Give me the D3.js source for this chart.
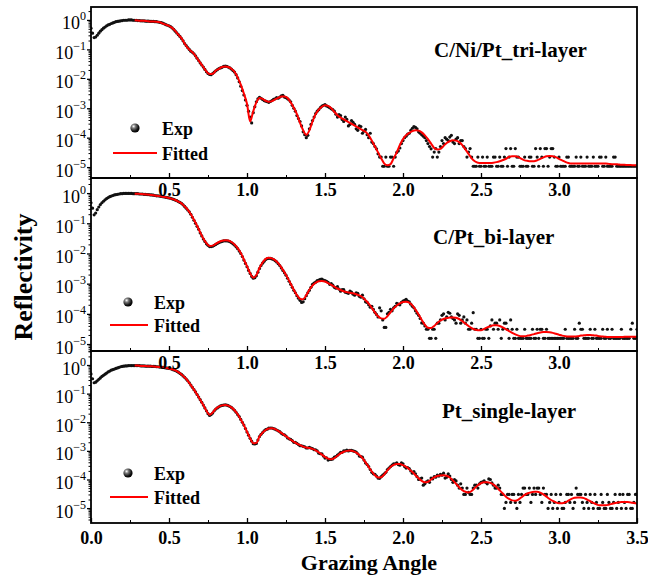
<!DOCTYPE html>
<html><head><meta charset="utf-8">
<script src="https://cdn.jsdelivr.net/npm/d3@7"></script>
<style>body{margin:0;background:#fff}svg{display:block}</style>
</head><body><svg id="c" width="648" height="578"></svg>
<script>
// ---------------- DATA (log10 of reflectivity) ----------------
const angleStep = 0.02;          // step of each measured/fitted array (deg)
const evenStartAngle = 0.0;      // first angle of the *Even arrays
const oddStartAngle = 0.01;      // first angle of the *Odd arrays
const fitStartAngle = 0.28;      // first fitted angle
const xTickValues = [0, 0.5, 1.0, 1.5, 2.0, 2.5, 3.0, 3.5];
const xTickLabels = ["0.0", "0.5", "1.0", "1.5", "2.0", "2.5", "3.0", "3.5"];
const yTickExponents = [0, -1, -2, -3, -4, -5];
const panelTitles = ["C/Ni/Pt_tri-layer", "C/Pt_bi-layer", "Pt_single-layer"];
const legendLabels = ["Exp", "Fitted"];
const xAxisTitle = "Grazing Angle";
const yAxisTitle = "Reflectivity";

const expTriEven = [
-0.28,-0.6,-0.52,-0.38,-0.28,-0.2,-0.15,-0.1,-0.06,-0.04,
-0.02,-0.01,0,0,-0.01,-0.02,-0.03,-0.03,-0.04,-0.05,
-0.05,-0.06,-0.08,-0.11,-0.16,-0.2,-0.27,-0.38,-0.5,-0.63,
-0.8,-0.94,-1.06,-1.15,-1.3,-1.46,-1.6,-1.76,-1.85,-1.82,
-1.73,-1.65,-1.61,-1.57,-1.6,-1.67,-1.77,-1.97,-2.25,-2.55,
-2.9,-3.3,-3.15,-2.78,-2.63,-2.7,-2.76,-2.8,-2.74,-2.68,
-2.66,-2.58,-2.62,-2.68,-2.78,-3.0,-3.25,-3.45,-3.8,-4.0,
-3.7,-3.42,-3.18,-3.05,-2.93,-2.88,-2.95,-3.02,-3.1,-3.3,
-3.25,-3.45,-3.38,-3.55,-3.48,-3.7,-3.6,-3.85,-3.72,-4.0,
-4.15,-4.3,-4.55,-4.66,-4.97,-4.97,-4.66,-4.97,-4.5,-4.35,
-4.1,-3.95,-3.85,-3.68,-3.65,-3.8,-3.9,-4.0,-4.2,-4.38,
-4.49,-4.66,-4.3,-4.2,-4.05,-3.98,-4.15,-4.05,-4.2,-4.1,
-4.37,-4.49,-4.66,-4.97,-4.66,-4.97,-4.97,-4.66,-4.97,-4.66,
-4.97,-4.66,-4.97,-4.37,-4.66,-4.97,-4.37,-4.66,-4.97,-4.66,
-4.97,-4.66,-4.97,-4.66,-4.37,-4.97,-4.37,-4.66,-4.37,-4.97,
-4.66,-4.97,-4.97,-4.66,-4.97,-4.97,-4.97,-4.66,-4.97,-4.66,
-4.97,-4.66,-4.97,-4.66,-4.97,-4.66,-4.97,-4.97,-4.66,-4.97,
-4.97,-4.97,-4.97,-4.97,-4.97,-4.97];

const expTriOdd = [
-0.45,-0.58,-0.45,-0.33,-0.24,-0.17,-0.12,-0.08,-0.05,-0.03,
-0.01,-0.01,0,-0.01,-0.01,-0.02,-0.03,-0.04,-0.04,-0.05,
-0.06,-0.07,-0.09,-0.13,-0.18,-0.23,-0.32,-0.44,-0.56,-0.71,
-0.87,-1.0,-1.1,-1.22,-1.38,-1.53,-1.68,-1.82,-1.86,-1.77,
-1.69,-1.63,-1.58,-1.58,-1.63,-1.72,-1.86,-2.1,-2.4,-2.72,
-3.1,-3.5,-2.95,-2.68,-2.66,-2.74,-2.78,-2.77,-2.7,-2.64,
-2.62,-2.56,-2.64,-2.72,-2.9,-3.1,-3.35,-3.6,-3.9,-3.92,
-3.55,-3.3,-3.1,-2.98,-2.9,-2.92,-2.98,-3.05,-3.2,-3.22,
-3.38,-3.3,-3.6,-3.42,-3.55,-3.75,-3.62,-3.78,-3.9,-3.85,
-4.2,-4.38,-4.66,-4.97,-4.66,-4.97,-4.66,-4.66,-4.45,-4.2,
-4.0,-3.88,-3.75,-3.62,-3.7,-3.85,-3.95,-4.1,-4.3,-4.66,
-4.37,-4.49,-4.1,-4.0,-4.1,-3.92,-4.2,-4.0,-4.1,-4.3,
-4.66,-4.37,-4.97,-4.97,-4.97,-4.66,-4.97,-4.97,-4.97,-4.66,
-4.97,-4.97,-4.66,-4.97,-4.37,-4.97,-4.66,-4.97,-4.97,-4.97,
-4.66,-4.97,-4.37,-4.97,-4.66,-4.37,-4.97,-4.37,-4.66,-4.97,
-4.97,-4.97,-4.66,-4.97,-4.97,-4.66,-4.97,-4.97,-4.97,-4.97,
-4.97,-4.97,-4.97,-4.66,-4.97,-4.97,-4.97,-4.66,-4.97,-4.97,
-4.97,-4.97,-4.97,-4.97,-4.97];

const fitTri = [
-0.01,-0.02,-0.03,-0.03,-0.04,-0.05,-0.05,-0.06,-0.08,-0.12,
-0.16,-0.2,-0.27,-0.37,-0.5,-0.62,-0.8,-0.95,-1.05,-1.15,
-1.3,-1.45,-1.6,-1.75,-1.84,-1.83,-1.72,-1.66,-1.6,-1.58,
-1.6,-1.66,-1.76,-1.95,-2.2,-2.5,-2.85,-3.45,-3.1,-2.8,
-2.65,-2.68,-2.75,-2.78,-2.76,-2.7,-2.65,-2.6,-2.6,-2.65,
-2.8,-2.98,-3.2,-3.5,-3.75,-3.9,-3.75,-3.45,-3.2,-3.05,
-2.95,-2.9,-2.92,-3.0,-3.12,-3.24,-3.32,-3.38,-3.44,-3.5,
-3.56,-3.62,-3.68,-3.74,-3.8,-3.92,-4.1,-4.3,-4.5,-4.7,
-4.88,-4.94,-4.9,-4.7,-4.5,-4.25,-4.05,-3.92,-3.84,-3.78,
-3.75,-3.76,-3.82,-3.92,-4.05,-4.2,-4.35,-4.4,-4.38,-4.28,
-4.18,-4.12,-4.09,-4.1,-4.15,-4.25,-4.4,-4.55,-4.7,-4.8,
-4.85,-4.86,-4.86,-4.86,-4.86,-4.85,-4.83,-4.8,-4.76,-4.72,
-4.65,-4.63,-4.63,-4.66,-4.72,-4.77,-4.79,-4.8,-4.8,-4.77,
-4.72,-4.67,-4.63,-4.62,-4.63,-4.66,-4.72,-4.77,-4.82,-4.86,
-4.88,-4.88,-4.88,-4.88,-4.88,-4.88,-4.88,-4.88,-4.88,-4.88,
-4.88,-4.88,-4.89,-4.9,-4.9,-4.91,-4.92,-4.92,-4.93,-4.93,
-4.94,-4.94];

const expBiEven = [
-0.32,-0.72,-0.55,-0.38,-0.27,-0.18,-0.12,-0.08,-0.05,-0.03,
-0.02,-0.01,-0.01,-0.01,-0.02,-0.02,-0.03,-0.04,-0.05,-0.06,
-0.07,-0.09,-0.1,-0.12,-0.14,-0.16,-0.19,-0.23,-0.28,-0.34,
-0.44,-0.56,-0.7,-0.9,-1.1,-1.32,-1.52,-1.68,-1.77,-1.76,
-1.7,-1.64,-1.6,-1.58,-1.59,-1.64,-1.72,-1.84,-2.0,-2.22,
-2.44,-2.66,-2.82,-2.74,-2.5,-2.32,-2.2,-2.16,-2.18,-2.24,
-2.34,-2.48,-2.64,-2.82,-3.02,-3.22,-3.4,-3.55,-3.6,-3.4,
-3.22,-3.02,-2.95,-2.88,-2.85,-2.9,-2.96,-3.0,-3.12,-3.1,
-3.25,-3.2,-3.3,-3.25,-3.35,-3.3,-3.42,-3.38,-3.6,-3.7,
-3.75,-3.95,-4.1,-3.9,-4.45,-4.0,-3.85,-3.8,-3.65,-3.7,
-3.58,-3.52,-3.6,-3.75,-3.9,-4.05,-4.3,-4.4,-4.51,-4.81,
-4.51,-4.31,-4.2,-4.0,-4.1,-3.98,-4.15,-4.31,-4.05,-4.2,
-4.31,-4.51,-4.31,-4.51,-4.81,-4.51,-4.81,-4.51,-4.4,-4.51,
-4.31,-4.2,-4.51,-4.31,-4.81,-4.51,-4.81,-4.81,-4.81,-4.51,
-4.81,-4.81,-4.81,-4.51,-4.51,-4.81,-4.51,-4.81,-4.81,-4.81,
-4.81,-4.81,-4.51,-4.81,-4.81,-4.51,-4.81,-4.51,-4.81,-4.81,
-4.51,-4.81,-4.81,-4.81,-4.51,-4.81,-4.81,-4.51,-4.81,-4.81,
-4.51,-4.81,-4.81,-4.51,-4.81,-4.51];

const expBiOdd = [
-0.5,-0.66,-0.46,-0.32,-0.22,-0.15,-0.1,-0.06,-0.04,-0.02,
-0.01,-0.01,-0.01,-0.02,-0.02,-0.03,-0.03,-0.04,-0.05,-0.06,
-0.08,-0.09,-0.11,-0.13,-0.15,-0.17,-0.21,-0.25,-0.31,-0.39,
-0.5,-0.62,-0.8,-1.0,-1.2,-1.42,-1.6,-1.73,-1.77,-1.73,
-1.67,-1.62,-1.58,-1.58,-1.61,-1.68,-1.78,-1.92,-2.1,-2.33,
-2.56,-2.76,-2.8,-2.62,-2.4,-2.26,-2.17,-2.16,-2.2,-2.28,
-2.4,-2.56,-2.72,-2.92,-3.12,-3.3,-3.48,-3.62,-3.5,-3.3,
-3.12,-2.98,-2.9,-2.86,-2.88,-2.92,-3.02,-3.05,-3.15,-3.18,
-3.2,-3.28,-3.32,-3.28,-3.38,-3.32,-3.45,-3.5,-3.62,-3.78,
-3.85,-4.02,-3.8,-4.2,-4.45,-3.95,-3.9,-3.75,-3.68,-3.62,
-3.55,-3.58,-3.68,-3.8,-3.98,-4.15,-4.31,-4.51,-4.81,-4.51,
-4.81,-4.31,-4.05,-4.2,-3.95,-4.1,-4.2,-4.0,-4.31,-4.1,
-4.2,-4.51,-3.96,-4.51,-4.81,-4.81,-4.51,-4.81,-4.2,-4.31,
-4.51,-4.81,-4.31,-4.51,-4.2,-4.81,-4.51,-4.81,-4.81,-4.81,
-4.81,-4.51,-4.81,-4.81,-4.51,-4.81,-4.81,-4.81,-4.81,-4.81,
-4.81,-4.81,-4.81,-4.81,-4.81,-4.81,-4.31,-4.51,-4.81,-4.81,
-4.81,-4.51,-4.81,-4.81,-4.81,-4.51,-4.81,-4.81,-4.81,-4.81,
-4.81,-4.81,-4.81,-4.31,-4.81];

const fitBi = [
-0.02,-0.02,-0.03,-0.04,-0.05,-0.06,-0.07,-0.09,-0.1,-0.12,
-0.14,-0.16,-0.19,-0.23,-0.28,-0.34,-0.44,-0.55,-0.7,-0.88,
-1.08,-1.3,-1.5,-1.66,-1.75,-1.74,-1.68,-1.62,-1.58,-1.56,
-1.57,-1.62,-1.7,-1.82,-1.98,-2.2,-2.42,-2.65,-2.8,-2.72,
-2.48,-2.3,-2.18,-2.14,-2.16,-2.22,-2.32,-2.46,-2.62,-2.8,
-3.0,-3.2,-3.38,-3.5,-3.52,-3.38,-3.2,-3.06,-2.97,-2.92,
-2.91,-2.93,-2.98,-3.04,-3.1,-3.16,-3.21,-3.25,-3.28,-3.3,
-3.32,-3.35,-3.39,-3.45,-3.55,-3.66,-3.8,-3.95,-4.08,-4.15,
-4.16,-4.08,-3.95,-3.82,-3.72,-3.65,-3.61,-3.6,-3.63,-3.72,
-3.86,-4.02,-4.2,-4.36,-4.46,-4.47,-4.4,-4.3,-4.22,-4.17,
-4.14,-4.12,-4.12,-4.13,-4.17,-4.24,-4.32,-4.4,-4.47,-4.52,
-4.54,-4.54,-4.5,-4.45,-4.41,-4.38,-4.38,-4.4,-4.45,-4.51,
-4.57,-4.63,-4.68,-4.72,-4.74,-4.74,-4.72,-4.7,-4.67,-4.64,
-4.62,-4.6,-4.6,-4.61,-4.63,-4.66,-4.69,-4.72,-4.74,-4.75,
-4.75,-4.75,-4.74,-4.72,-4.71,-4.7,-4.7,-4.71,-4.72,-4.74,
-4.75,-4.76,-4.77,-4.77,-4.77,-4.77,-4.77,-4.76,-4.76,-4.76,
-4.76,-4.76];

const expSingleEven = [
-0.31,-0.62,-0.55,-0.45,-0.36,-0.28,-0.21,-0.16,-0.12,-0.08,
-0.05,-0.03,-0.02,-0.02,-0.02,-0.02,-0.03,-0.03,-0.04,-0.04,
-0.05,-0.06,-0.07,-0.08,-0.1,-0.12,-0.15,-0.19,-0.25,-0.33,
-0.43,-0.55,-0.7,-0.86,-1.03,-1.21,-1.4,-1.6,-1.76,-1.68,
-1.54,-1.46,-1.41,-1.39,-1.42,-1.48,-1.58,-1.73,-1.9,-2.1,
-2.34,-2.56,-2.75,-2.74,-2.5,-2.36,-2.26,-2.2,-2.2,-2.24,
-2.3,-2.38,-2.44,-2.55,-2.6,-2.7,-2.74,-2.82,-2.84,-2.9,
-2.88,-2.92,-2.96,-3.08,-3.1,-3.25,-3.32,-3.3,-3.22,-3.15,
-3.05,-3.0,-2.97,-2.98,-3.0,-3.04,-3.18,-3.22,-3.42,-3.55,
-3.75,-3.82,-3.95,-3.9,-3.8,-3.65,-3.55,-3.45,-3.42,-3.5,
-3.45,-3.6,-3.62,-3.78,-3.8,-4.0,-3.95,-4.15,-4.05,-3.95,
-3.9,-3.85,-3.82,-3.78,-3.92,-3.88,-4.1,-4.05,-4.3,-4.3,
-4.52,-4.45,-4.52,-4.2,-4.3,-4.1,-4.05,-4.15,-4.0,-4.2,
-4.3,-4.3,-4.52,-4.8,-4.52,-4.52,-4.8,-4.52,-4.52,-4.3,
-4.52,-4.8,-4.3,-4.3,-4.52,-4.3,-4.52,-4.8,-5.01,-4.52,
-4.8,-5.01,-4.8,-4.52,-4.52,-4.8,-4.52,-4.52,-5.01,-4.8,
-4.52,-5.01,-4.8,-5.01,-4.8,-5.01,-4.8,-5.01,-4.52,-4.8,
-5.01,-4.8,-4.52,-5.01,-4.8,-4.52];

const expSingleOdd = [
-0.48,-0.6,-0.5,-0.4,-0.32,-0.24,-0.18,-0.14,-0.1,-0.06,
-0.04,-0.03,-0.02,-0.02,-0.02,-0.02,-0.03,-0.04,-0.04,-0.05,
-0.05,-0.06,-0.07,-0.09,-0.11,-0.13,-0.17,-0.22,-0.29,-0.38,
-0.49,-0.62,-0.78,-0.94,-1.12,-1.3,-1.5,-1.7,-1.73,-1.6,
-1.5,-1.43,-1.4,-1.4,-1.45,-1.53,-1.65,-1.8,-2.0,-2.22,
-2.45,-2.66,-2.76,-2.62,-2.42,-2.3,-2.24,-2.2,-2.22,-2.27,
-2.33,-2.42,-2.48,-2.58,-2.64,-2.7,-2.78,-2.82,-2.86,-2.9,
-2.9,-2.96,-3.0,-3.1,-3.18,-3.24,-3.3,-3.28,-3.2,-3.1,
-3.05,-3.0,-3.0,-2.98,-3.02,-3.1,-3.2,-3.32,-3.48,-3.65,
-3.8,-3.88,-3.96,-3.85,-3.75,-3.6,-3.5,-3.45,-3.48,-3.42,
-3.55,-3.58,-3.7,-3.72,-3.9,-3.98,-4.2,-4.08,-4.1,-3.98,
-3.92,-3.88,-3.85,-3.95,-3.8,-4.0,-4.0,-4.2,-4.15,-4.52,
-4.3,-4.52,-4.3,-4.2,-4.15,-4.08,-4.1,-3.98,-4.12,-4.3,
-4.2,-4.52,-5.01,-4.52,-4.8,-4.52,-5.01,-4.8,-4.3,-4.52,
-4.3,-4.52,-4.52,-4.3,-4.8,-4.52,-5.01,-4.52,-4.8,-5.01,
-4.52,-5.01,-4.52,-4.8,-5.01,-4.3,-4.52,-4.8,-4.52,-5.01,
-4.8,-4.52,-5.01,-4.52,-5.01,-4.52,-5.01,-4.8,-5.01,-4.52,
-4.52,-5.01,-4.52,-5.01,-4.52];

const fitSingle = [
-0.02,-0.02,-0.03,-0.03,-0.04,-0.04,-0.05,-0.06,-0.07,-0.08,
-0.1,-0.12,-0.15,-0.19,-0.25,-0.33,-0.43,-0.55,-0.7,-0.86,
-1.03,-1.21,-1.4,-1.6,-1.74,-1.66,-1.53,-1.45,-1.41,-1.4,
-1.42,-1.48,-1.58,-1.72,-1.9,-2.1,-2.33,-2.56,-2.73,-2.72,
-2.5,-2.36,-2.27,-2.22,-2.21,-2.24,-2.3,-2.37,-2.45,-2.53,
-2.61,-2.68,-2.75,-2.8,-2.85,-2.88,-2.9,-2.93,-2.98,-3.05,
-3.13,-3.21,-3.27,-3.29,-3.25,-3.17,-3.09,-3.03,-3.0,-2.99,
-3.01,-3.06,-3.14,-3.25,-3.4,-3.56,-3.72,-3.85,-3.93,-3.92,
-3.82,-3.68,-3.56,-3.49,-3.46,-3.46,-3.5,-3.56,-3.64,-3.74,
-3.85,-3.96,-4.05,-4.1,-4.08,-4.0,-3.93,-3.88,-3.86,-3.85,
-3.87,-3.93,-4.03,-4.15,-4.27,-4.37,-4.43,-4.45,-4.4,-4.3,
-4.2,-4.13,-4.1,-4.1,-4.12,-4.18,-4.27,-4.38,-4.49,-4.6,
-4.68,-4.73,-4.74,-4.7,-4.62,-4.54,-4.48,-4.45,-4.43,-4.43,
-4.46,-4.52,-4.6,-4.68,-4.75,-4.8,-4.83,-4.83,-4.8,-4.74,
-4.68,-4.64,-4.63,-4.63,-4.65,-4.7,-4.76,-4.82,-4.87,-4.9,
-4.9,-4.9,-4.88,-4.85,-4.82,-4.8,-4.79,-4.79,-4.79,-4.8,
-4.82,-4.84];

// ---------------- LAYOUT ----------------
const FONT = "'Liberation Serif','Times New Roman',Times,serif";
const svg = d3.select("#c");
const x = d3.scaleLinear().domain([0, 3.5]).range([91, 637]);

const panels = [
  {even: expTriEven, odd: expTriOdd, fit: fitTri, title: panelTitles[0], top: 7, bottom: 178, lo: -5.37, hi: 0.44,
   titleX: 434, titleY: 57, ball: [135, 128], line: [113, 157, 153], textX: 162, labelDy: 18, showEnds: false},
  {even: expBiEven, odd: expBiOdd, fit: fitBi, title: panelTitles[1], top: 178, bottom: 351, lo: -5.23, hi: 0.5,
   titleX: 433, titleY: 244, ball: [128, 302], line: [110, 148, 325], textX: 154, labelDy: 18, showEnds: false},
  {even: expSingleEven, odd: expSingleOdd, fit: fitSingle, title: panelTitles[2], top: 351, bottom: 523, lo: -5.52, hi: 0.49,
   titleX: 442, titleY: 418, ball: [128, 473], line: [110, 148, 497], textX: 154, labelDy: 21, showEnds: true}
];

const defs = svg.append("defs");
const grad = defs.append("radialGradient").attr("id", "ballGrad")
  .attr("cx", "35%").attr("cy", "32%").attr("r", "70%");
grad.append("stop").attr("offset", "0").attr("stop-color", "#ffffff");
grad.append("stop").attr("offset", "0.3").attr("stop-color", "#7a7a7a");
grad.append("stop").attr("offset", "0.75").attr("stop-color", "#111");
grad.append("stop").attr("offset", "1").attr("stop-color", "#000");

panels.forEach((p, i) => {
  p.y = d3.scaleLog().domain([Math.pow(10, p.lo), Math.pow(10, p.hi)]).range([p.bottom, p.top]);
  defs.append("clipPath").attr("id", "clip" + i).append("rect")
    .attr("x", x(0)).attr("y", p.top).attr("width", x(3.5) - x(0)).attr("height", p.bottom - p.top);
});

// data layer
panels.forEach((p, i) => {
  const g = svg.append("g").attr("clip-path", `url(#clip${i})`);
  const expPts = p.even.map((v, k) => ({a: evenStartAngle + k * angleStep, r: Math.pow(10, v)}))
    .concat(p.odd.map((v, k) => ({a: oddStartAngle + k * angleStep, r: Math.pow(10, v)})));
  const fitPts = p.fit.map((v, k) => ({a: fitStartAngle + k * angleStep, r: Math.pow(10, v)}));
  g.selectAll("circle.exp").data(expPts).join("circle").attr("class", "exp")
    .attr("cx", d => x(d.a)).attr("cy", d => p.y(d.r)).attr("r", 1.6).attr("fill", "#111");
  g.append("path").datum(fitPts)
    .attr("d", d3.line().x(d => x(d.a)).y(d => p.y(d.r)).curve(d3.curveMonotoneX))
    .attr("fill", "none").attr("stroke", "#ff0000").attr("stroke-width", 2);
});

// frames, axes, text
panels.forEach((p, i) => {
  const yMajor = yTickExponents.map(e => Math.pow(10, e));
  const ya = svg.append("g").attr("transform", `translate(${x(0)},0)`)
    .call(d3.axisLeft(p.y).tickValues(yMajor).tickSize(4).tickSizeOuter(0).tickPadding(3).tickFormat(() => ""));
  ya.select(".domain").remove();
  ya.selectAll(".tick line").attr("stroke-width", 1.3);
  ya.selectAll(".tick text").each(function(d) {
    const e = Math.round(Math.log10(d));
    const t = d3.select(this).attr("font-family", FONT).attr("font-size", 18).attr("fill", "#000")
      .attr("text-anchor", "end").attr("dy", "0.5em").attr("x", -5);
    t.append("tspan").text("10");
    t.append("tspan").attr("font-size", 12).attr("dy", -9).text(e === 0 ? "0" : "\u2212" + Math.abs(e));
  });
  const minor = [];
  for (let e = Math.floor(p.lo); e <= Math.ceil(p.hi); e++) {
    for (let k = 2; k <= 9; k++) {
      const v = k * Math.pow(10, e);
      if (Math.log10(v) > p.lo && Math.log10(v) < p.hi) minor.push(v);
    }
  }
  const ym = svg.append("g").attr("transform", `translate(${x(0)},0)`)
    .call(d3.axisLeft(p.y).tickValues(minor).tickSize(2.5).tickSizeOuter(0).tickFormat(() => ""));
  ym.select(".domain").remove();

  const xm = svg.append("g").attr("transform", `translate(0,${p.bottom})`)
    .call(d3.axisBottom(x).tickValues([0.25, 0.75, 1.25, 1.75, 2.25, 2.75, 3.25]).tickSize(-3).tickSizeOuter(0).tickFormat(() => ""));
  xm.select(".domain").remove();
  const xa = svg.append("g").attr("class", "xaxis").attr("transform", `translate(0,${p.bottom})`)
    .call(d3.axisBottom(x).tickValues(p.showEnds ? xTickValues : xTickValues.slice(1, 7))
      .tickSize(-5).tickSizeOuter(0).tickPadding(p.labelDy - 13)
      .tickFormat(d => xTickLabels[xTickValues.indexOf(d)]));
  xa.select(".domain").remove();
  xa.selectAll(".tick line").attr("stroke-width", 1.3);
  xa.selectAll(".tick text").attr("font-family", FONT).attr("font-size", 18)
    .attr("font-weight", "bold").attr("fill", "#000");

  svg.append("rect").attr("x", x(0)).attr("y", p.top).attr("width", x(3.5) - x(0))
    .attr("height", p.bottom - p.top).attr("fill", "none").attr("stroke", "#000").attr("stroke-width", 1.8);

  svg.append("text").attr("x", p.titleX).attr("y", p.titleY).attr("font-family", FONT)
    .attr("font-size", 21).attr("font-weight", "bold").text(p.title);

  svg.append("circle").attr("cx", p.ball[0]).attr("cy", p.ball[1]).attr("r", 4.6).attr("fill", "url(#ballGrad)");
  svg.append("text").attr("x", p.textX).attr("y", p.ball[1] + 7).attr("font-family", FONT)
    .attr("font-size", 18).attr("font-weight", "bold").text(legendLabels[0]);
  svg.append("line").attr("x1", p.line[0]).attr("x2", p.line[1]).attr("y1", p.line[2]).attr("y2", p.line[2])
    .attr("stroke", "#ff0000").attr("stroke-width", 2);
  svg.append("text").attr("x", p.textX).attr("y", p.line[2] + 7).attr("font-family", FONT)
    .attr("font-size", 18).attr("font-weight", "bold").text(legendLabels[1]);
});

svg.selectAll("g.xaxis").raise();

svg.append("text").attr("x", 369).attr("y", 570).attr("text-anchor", "middle")
  .attr("font-family", FONT).attr("font-size", 22).attr("font-weight", "bold").text(xAxisTitle);
svg.append("text").attr("transform", "translate(32,277) rotate(-90)").attr("text-anchor", "middle")
  .attr("font-family", FONT).attr("font-size", 26).attr("font-weight", "bold").text(yAxisTitle);
</script>
</body></html>
